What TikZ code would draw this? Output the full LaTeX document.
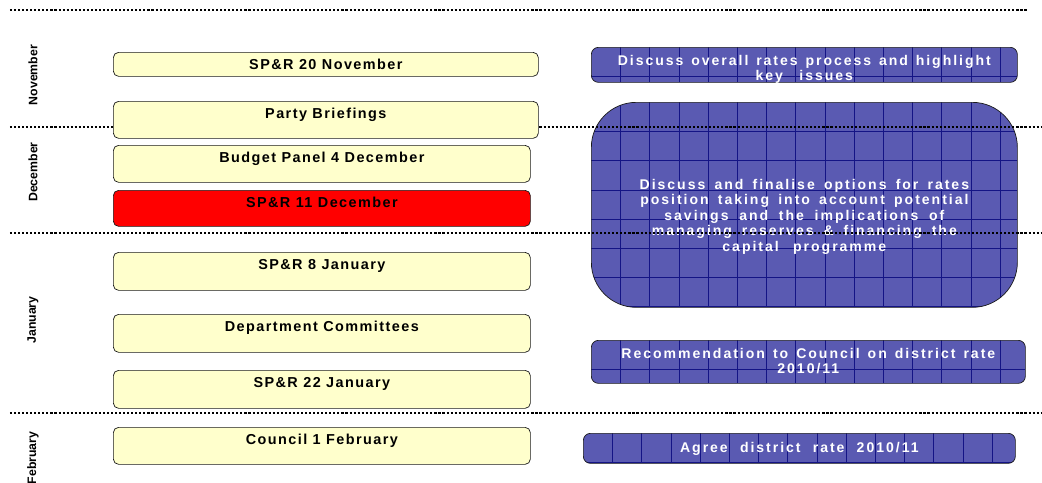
\documentclass[tikz,border=0pt]{standalone}
\usepackage{fontspec}
\setsansfont{Liberation Sans}
\newfontfamily\boxfont[LetterSpace=10]{Liberation Sans}
\newfontfamily\notefont[LetterSpace=14]{Liberation Sans}
\newcommand\notespacing{\spaceskip=3.5pt plus 1pt\relax}
\usepackage{tikz}
\definecolor{Ink}{HTML}{1A1A1A}
\definecolor{Cream}{HTML}{FFFFCC}
\definecolor{Alarm}{HTML}{FF0000}
\definecolor{Slate}{HTML}{5A5AB2}
\definecolor{Navy}{HTML}{141485}

\begin{document}
\begin{tikzpicture}[
  event/.style={draw=Ink, thin, rounded corners=3pt, fill=Cream, anchor=north west, inner sep=0pt,
    minimum width=8.34cm, text height=0.35cm, text depth=0.39cm, font=\boxfont\bfseries\fontsize{8.2}{9.8}\selectfont},
  note/.style={draw=Ink, thin, rounded corners=4pt, fill=Slate, text=white, anchor=north west, inner sep=0pt,
    align=center, text width=8.52cm, text height=0.36cm, font=\notefont\bfseries\fontsize{8}{8.8}\selectfont,
    execute at begin node=\notespacing,
    path picture={
      \foreach \k in {1,...,15}
        \draw[Navy, line width=0.5pt] ([xshift=\k*0.584cm]path picture bounding box.north west) -- ([xshift=\k*0.584cm]path picture bounding box.south west);
      \foreach \k in {1,...,7}
        \draw[Navy, line width=0.5pt] ([yshift=-\k*0.584cm]path picture bounding box.north west) -- ([yshift=-\k*0.584cm]path picture bounding box.north east);
    }},
  month/.style={rotate=90, font=\sffamily\bfseries\fontsize{7}{8}\selectfont},
  divider/.style={line width=1.2pt, dash pattern=on 1.2pt off 1.1pt}
]
\useasboundingbox (0,0) rectangle (20.84,-9.64);

\node[note, text depth=0.34cm] (overview) at (11.82,-0.94) {Discuss overall rates process and highlight\\key issues};
\node[note, text height=1.74cm, text depth=2.36cm, rounded corners=0.9cm] (options) at (11.82,-2.04) {Discuss and finalise options for rates\\position taking into account potential\\savings and the implications of\\managing reserves \& financing the\\capital programme};
\node[note, text depth=0.50cm, text width=8.68cm] (recommend) at (11.82,-6.80) {Recommendation to Council on district rate\\2010/11};
\node[note, text height=0.38cm, text depth=0.22cm, text width=8.64cm] (agree) at (11.66,-8.66) {Agree district rate 2010/11};

\draw[divider] (0.2,-0.20) -- (20.56,-0.20);
\draw[divider] (0.2,-2.54) -- (20.84,-2.54);
\draw[divider] (0.2,-4.66) -- (20.84,-4.66);
\draw[divider] (0.2,-8.26) -- (20.84,-8.26);

\node[event, minimum width=8.5cm, text depth=0.13cm] (spr20) at (2.26,-1.04) {SP\&R 20 November};
\node[event, minimum width=8.5cm] (briefings) at (2.26,-2.02) {Party Briefings};
\node[event] (panel) at (2.26,-2.90) {Budget Panel 4 December};
\node[event, fill=Alarm, text depth=0.37cm] (spr11) at (2.26,-3.80) {SP\&R 11 December};
\node[event, text depth=0.41cm] (spr8) at (2.26,-5.04) {SP\&R 8 January};
\node[event, text depth=0.41cm] (committees) at (2.26,-6.28) {Department Committees};
\node[event, text depth=0.41cm] (spr22) at (2.26,-7.40) {SP\&R 22 January};
\node[event] (council) at (2.26,-8.54) {Council 1 February};

\node[month] (nov) at (0.66,-1.50) {November};
\node[month] (dec) at (0.66,-3.44) {December};
\node[month] (jan) at (0.66,-6.40) {January};
\node[month] (feb) at (0.66,-9.16) {February};
\end{tikzpicture}
\end{document}
